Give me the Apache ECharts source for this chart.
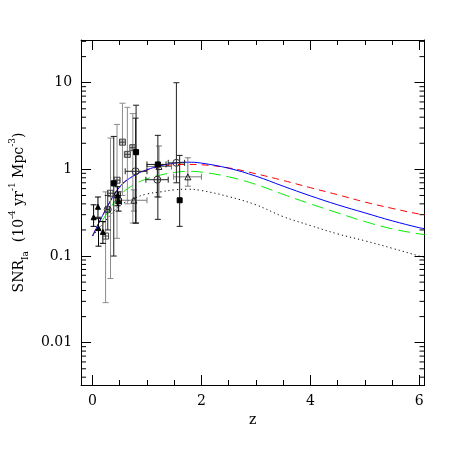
<!DOCTYPE html>
<html><head><meta charset="utf-8">
<script src="https://cdn.jsdelivr.net/npm/echarts@6/dist/echarts.min.js"></script>
<style>html,body{margin:0;padding:0;background:#fff}#c{width:463px;height:463px}</style>
</head><body><div id="c"></div>
<script>
// model curves (z grid and SNR_Ia values)
const zGrid        = [0, 0.25, 0.5, 0.75, 1, 1.25, 1.5, 1.75, 2, 2.5, 3, 3.5, 4, 4.5, 5, 5.5, 6, 6.1];
const blueSolid    = [0.17, 0.35, 0.63, 0.84, 0.99, 1.10, 1.18, 1.21, 1.18, 1.03, 0.835, 0.64, 0.495, 0.39, 0.315, 0.255, 0.212, 0.207];
const redDashed    = [0.17, 0.35, 0.63, 0.84, 0.98, 1.08, 1.13, 1.14, 1.13, 1.04, 0.89, 0.745, 0.615, 0.51, 0.42, 0.355, 0.305, 0.30];
const greenLongDash= [0.17, 0.30, 0.50, 0.66, 0.78, 0.86, 0.92, 0.95, 0.93, 0.82, 0.67, 0.515, 0.40, 0.315, 0.25, 0.206, 0.18, 0.177];
const blackDotted  = [0.17, 0.26, 0.38, 0.46, 0.52, 0.55, 0.58, 0.59, 0.57, 0.485, 0.39, 0.285, 0.225, 0.18, 0.15, 0.123, 0.10, 0.097];

// observations: [z, rate, zLow, zHigh, rateLow, rateHigh]
const filledTriangles = [
  [0.02, 0.28, 0.00, 0.04, 0.22, 0.39],
  [0.10, 0.37, 0.08, 0.12, 0.28, 0.48],
  [0.11, 0.21, 0.09, 0.13, 0.13, 0.27],
  [0.19, 0.19, 0.17, 0.21, 0.14, 0.25],
  [0.46, 0.50, 0.41, 0.51, 0.38, 0.63],
  [0.48, 0.43, 0.43, 0.53, 0.33, 0.55]
];
const openTriangles = [
  [0.76, 0.44, 0.50, 1.00, 0.33, 0.58],
  [1.22, 1.08, 1.00, 1.45, 0.48, 1.86],
  [1.75, 0.82, 1.49, 2.00, 0.64, 1.36]
];
const crossSquares = [
  [0.24, 0.17, 0.22, 0.26, 0.029, 0.55],
  [0.33, 0.53, 0.29, 0.37, 0.055, 2.3],
  [0.45, 0.75, 0.40, 0.50, 0.16, 3.3],
  [0.55, 2.06, 0.52, 0.58, 0.50, 5.8],
  [0.64, 1.49, 0.61, 0.67, 0.40, 5.2],
  [0.74, 1.78, 0.71, 0.77, 0.24, 4.4]
];
const openCircles = [
  [0.28, 0.345, 0.25, 0.31, 0.20, 0.50],
  [0.79, 0.95, 0.60, 1.00, 0.24, 3.9],
  [1.19, 0.76, 0.98, 1.39, 0.48, 1.10],
  [1.54, 1.19, 1.39, 1.69, 0.70, 10.0]
];
const filledSquares = [
  [0.39, 0.69, 0.36, 0.42, 0.10, 2.4],
  [0.80, 1.58, 0.77, 0.83, 0.24, 5.5],
  [1.20, 1.14, 1.00, 1.35, 0.265, 2.47],
  [1.60, 0.44, 1.58, 1.62, 0.22, 1.45]
];

const xMin = -0.21, xMax = 6.095, yMin = 0.00325, yMax = 31.1;
const FONT = 'DejaVu Serif';

// minor y tick positions (2..9 x 10^k)
const yMinorTicks = [];
for (let k = -3; k <= 1; k++) for (let m = 2; m <= 9; m++) {
  const v = m * Math.pow(10, k);
  if (v > yMin && v < yMax) yMinorTicks.push([0, v]);
}

function pair(xs, ys) { return xs.map((x, i) => [x, ys[i]]); }

function errRenderer(color) {
  return function (params, api) {
    const z = api.value(0), v = api.value(1);
    const c = api.coord([z, v]);
    const top = api.coord([z, api.value(5)]);
    const bot = api.coord([z, api.value(4)]);
    const lft = api.coord([api.value(2), v]);
    const rgt = api.coord([api.value(3), v]);
    const cap = 3;
    const style = { stroke: color, lineWidth: 1, fill: null };
    const ch = [
      { type: 'line', shape: { x1: c[0], y1: top[1], x2: c[0], y2: bot[1] }, style },
      { type: 'line', shape: { x1: c[0] - cap, y1: top[1], x2: c[0] + cap, y2: top[1] }, style },
      { type: 'line', shape: { x1: c[0] - cap, y1: bot[1], x2: c[0] + cap, y2: bot[1] }, style }
    ];
    if (rgt[0] - lft[0] > 3) {
      ch.push({ type: 'line', shape: { x1: lft[0], y1: c[1], x2: rgt[0], y2: c[1] }, style });
      ch.push({ type: 'line', shape: { x1: lft[0], y1: c[1] - cap, x2: lft[0], y2: c[1] + cap }, style });
      ch.push({ type: 'line', shape: { x1: rgt[0], y1: c[1] - cap, x2: rgt[0], y2: c[1] + cap }, style });
    }
    return { type: 'group', children: ch };
  };
}

function errSeries(data, color) {
  return {
    type: 'custom', renderItem: errRenderer(color), data: data,
    encode: { x: 0, y: 1 }, silent: true, z: 3
  };
}
function markSeries(data, symbol, size, fill, stroke) {
  return {
    type: 'scatter', data: data.map(d => [d[0], d[1]]), symbol: symbol, symbolSize: size,
    itemStyle: { color: fill, borderColor: stroke, borderWidth: 1, opacity: 1 },
    silent: true, z: 4
  };
}

const chart = echarts.init(document.getElementById('c'), null, { renderer: 'canvas' });

const axisCommonX = {
  type: 'value', min: xMin, max: xMax, splitNumber: 3, minInterval: 2, maxInterval: 2,
  axisLine: { show: true, onZero: false, lineStyle: { color: '#000', width: 1 } },
  axisTick: { show: true, inside: true, length: 10, lineStyle: { color: '#000' } },
  minorTick: { show: true, splitNumber: 4, length: 5, lineStyle: { color: '#000' } },
  splitLine: { show: false }
};
const axisCommonY = {
  type: 'log', logBase: 10, min: yMin, max: yMax,
  axisLine: { show: true, onZero: false, lineStyle: { color: '#000', width: 1 } },
  axisTick: { show: true, inside: true, length: 10, lineStyle: { color: '#000' } },
  splitLine: { show: false }
};

const option = {
  animation: false,
  backgroundColor: '#fff',
  grid: { left: 78.5, right: 38.5, top: 40, bottom: 78, containLabel: false },
  xAxis: [
    Object.assign({}, axisCommonX, {
      position: 'bottom',
      name: 'z', nameLocation: 'middle', nameGap: 22,
      nameTextStyle: { fontFamily: FONT, fontSize: 14, color: '#000' },
      axisLabel: { show: true, margin: 9, fontFamily: FONT, fontSize: 14, color: '#000',
                   showMinLabel: false, showMaxLabel: false,
                   formatter: v => (Math.abs(v - Math.round(v)) < 1e-9 && Math.round(v) % 2 === 0) ? String(Math.round(v)) : '' }
    }),
    Object.assign({}, axisCommonX, { position: 'top', axisLabel: { show: false } })
  ],
  yAxis: [
    Object.assign({}, axisCommonY, {
      position: 'left',
      name: '{n|SNR}{sub|Ia}{n|  (10}{sup|-4}{n| yr}{sup|-1}{n| Mpc}{sup|-3}{n|)}',
      nameLocation: 'middle', nameGap: 45, nameRotate: 90,
      nameTextStyle: {
        fontFamily: FONT, fontSize: 14, color: '#000',
        rich: {
          n: { fontFamily: FONT, fontSize: 14, color: '#000', lineHeight: 22, verticalAlign: 'middle' },
          sub: { fontFamily: FONT, fontSize: 9, color: '#000', lineHeight: 22, verticalAlign: 'bottom' },
          sup: { fontFamily: FONT, fontSize: 9, color: '#000', lineHeight: 22, verticalAlign: 'top' }
        }
      },
      axisLabel: { show: true, margin: 9, fontFamily: FONT, fontSize: 14, color: '#000',
                   showMinLabel: false, showMaxLabel: false }
    }),
    Object.assign({}, axisCommonY, { position: 'right', axisLabel: { show: false } })
  ],
  series: [
    {
      type: 'custom', data: yMinorTicks, encode: { y: 1 }, silent: true, z: 2, clip: false,
      renderItem: function (params, api) {
        const cs = params.coordSys;
        const y = api.coord([xMin, api.value(1)])[1];
        const st = { stroke: '#000', lineWidth: 1 };
        return { type: 'group', children: [
          { type: 'line', shape: { x1: cs.x, y1: y, x2: cs.x + 5, y2: y }, style: st },
          { type: 'line', shape: { x1: cs.x + cs.width - 5, y1: y, x2: cs.x + cs.width, y2: y }, style: st }
        ] };
      }
    },
    { type: 'line', data: pair(zGrid, blackDotted), smooth: 0.4, symbol: 'none', z: 2,
      lineStyle: { color: '#000', width: 1, type: [1.2, 3] } },
    { type: 'line', data: pair(zGrid, greenLongDash), smooth: 0.4, symbol: 'none', z: 2,
      lineStyle: { color: '#00ee00', width: 1, type: [12, 6] } },
    { type: 'line', data: pair(zGrid, redDashed), smooth: 0.4, symbol: 'none', z: 2,
      lineStyle: { color: '#ff0000', width: 1, type: [7, 5] } },
    { type: 'line', data: pair(zGrid, blueSolid), smooth: 0.4, symbol: 'none', z: 2,
      lineStyle: { color: '#0000ff', width: 1 } },

    errSeries(crossSquares, '#8c8c8c'),
    errSeries(openTriangles, '#7a7a7a'),
    errSeries(filledSquares, '#1a1a1a'),
    errSeries(openCircles, '#222222'),
    errSeries(filledTriangles, '#000000'),

    markSeries(crossSquares, 'path://M0,0L10,0L10,10L0,10ZM5,0L5,10M0,5L10,5', 6, 'rgba(255,255,255,0)', '#444'),
    markSeries(openTriangles, 'triangle', 6, 'rgba(255,255,255,0)', '#222'),
    markSeries(filledSquares, 'rect', 5, '#000', '#000'),
    markSeries(openCircles, 'circle', 7, 'rgba(255,255,255,0)', '#333'),
    markSeries(filledTriangles, 'triangle', 5, '#000', '#000')
  ]
};
chart.setOption(option);
</script>
</body></html>
